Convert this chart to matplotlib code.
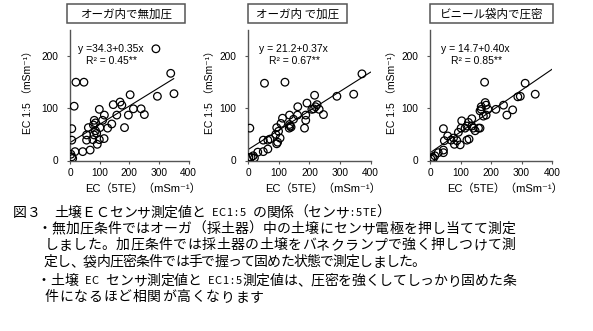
import unicodedata
import matplotlib.pyplot as plt
from matplotlib.patches import Rectangle

# -------------------------------------
#  Data: EC(5TE) vs EC1:5 (mS/m)
# -------------------------------------

titles = ["オーガ内で無加圧", "オーガ内 で加圧", "ビニール袋内で圧密"]
equations = ["y =34.3+0.35x", "y = 21.2+0.37x", "y = 14.7+0.40x"]
r2_labels = ["R² = 0.45**", "R² = 0.67**", "R² = 0.85**"]
intercepts = [34.3, 21.2, 14.7]
slopes = [0.35, 0.37, 0.40]
fit_ranges = [(0, 350), (0, 400), (0, 400)]

x_nopress = [290, 340, 351, 20, 47, 14, 203, 295, 146, 169, 175, 214, 197, 240, 251,
             99, 116, 110, 82, 158, 141, 127, 184, 101, 86, 79, 62, 86, 6, 56,
             81, 90, 115, 99, 77, 56, 92, 6, 68, 43, 17, 3, 6, 9]
y_nopress = [214, 167, 128, 150, 150, 104, 126, 123, 107, 112, 106, 99, 87, 99, 88,
             98, 87, 77, 77, 87, 70, 62, 63, 63, 72, 68, 63, 57, 61, 49,
             49, 52, 42, 40, 40, 39, 31, 39, 20, 17, 17, 12, 7, 4]

x_press = [372, 345, 290, 53, 120, 217, 192, 162, 225, 214, 232, 246, 188, 188, 184,
           135, 161, 148, 112, 107, 135, 140, 134, 93, 99, 90, 104, 96, 93, 71,
           64, 49, 5, 64, 49, 31, 16, 9, 20, 2, 220, 208, 137]
y_press = [166, 127, 123, 148, 150, 125, 110, 103, 107, 99, 98, 88, 87, 77, 62,
           87, 87, 79, 81, 71, 69, 64, 62, 63, 56, 50, 43, 35, 32, 41,
           39, 39, 62, 22, 17, 16, 9, 6, 5, 6, 103, 98, 66]

x_bag = [312, 345, 288, 296, 179, 181, 184, 168, 168, 164, 190, 216, 241, 271, 252,
         184, 175, 137, 126, 104, 121, 137, 142, 159, 164, 148, 115, 102, 93, 44,
         58, 77, 69, 47, 88, 80, 99, 121, 128, 44, 44, 27, 16, 8, 3, 11]
y_bag = [148, 127, 122, 123, 150, 111, 106, 103, 98, 95, 98, 98, 106, 97, 87,
         87, 85, 80, 73, 76, 66, 66, 62, 62, 62, 57, 62, 62, 54, 61,
         47, 43, 39, 38, 38, 31, 30, 39, 41, 20, 15, 15, 9, 6, 3, 4]

xs = [x_nopress, x_press, x_bag]
ys = [y_nopress, y_press, y_bag]

caption = [
    "図３　土壌ＥＣセンサ測定値と EC1:5 の関係（センサ:5TE）",
    "・無加圧条件ではオーガ（採土器）中の土壌にセンサ電極を押し当てて測定",
    "しました。加圧条件では採土器の土壌をバネクランプで強く押しつけて測",
    "定し、袋内圧密条件では手で握って固めた状態で測定しました。",
    "・土壌 EC センサ測定値と EC1:5測定値は、圧密を強くしてしっかり固めた条",
    "件になるほど相関が高くなります",
]

# -------------------------------------
#  Figure layout (pixels)
# -------------------------------------

W, H = 593, 331
LATIN = ["Liberation Sans", "DejaVu Sans", "Noto Sans CJK JP"]
CJK = ["Noto Sans CJK JP", "DejaVu Sans"]

axes_px = [(70, 118.5), (248.3, 122.2), (430, 122)]   # left, width
axis_bottom, axis_top = 160.5, 30
boxes_px = [(67, 118), (248, 99), (430, 123)]        # left, width
box_top, box_bot = 4, 23
eq_px = [(78, 86), (259, 269), (441, 451)]
ylabel_x = [28, 210, 392]
xlabel_x = [85, 265, 447]

# caption line grid: start x, end x, centre y
caption_px = [(13, 390, 213), (37, 516, 229), (44, 516, 245),
              (44, 425, 262), (37, 516, 281), (44, 264, 297)]


def fx(px):
    return px / W


def fy(py):
    return 1 - py / H


def draw_mono(fig, text, x0, x1, y):
    # full-width chars take one cell, half-width ones half a cell
    units = [1.0 if unicodedata.east_asian_width(c) in ("W", "F") else 0.5 for c in text]
    cell = (x1 - x0) / sum(units)
    x = x0
    for c, u in zip(text, units):
        w = u * cell
        if not c.isspace():
            fig.text(fx(x + w / 2), fy(y), c, ha="center", va="center",
                     family=CJK, fontsize=10 if u == 1.0 else 8)
        x += w


def draw_panel(fig, i):
    left, width = axes_px[i]
    ax = fig.add_axes([fx(left), fy(axis_bottom), width / W, (axis_bottom - axis_top) / H])
    ax.scatter(xs[i], ys[i], s=30, facecolors="none", edgecolors="black",
               linewidths=0.9, zorder=3)

    x0, x1 = fit_ranges[i]
    ax.plot([x0, x1], [intercepts[i] + slopes[i] * x0, intercepts[i] + slopes[i] * x1],
            color="black", lw=0.8, zorder=2)

    ax.set_xlim(0, 400)
    ax.set_ylim(0, 250)
    ax.set_xticks([0, 100, 200, 300, 400])
    ax.set_yticks([0, 100, 200])
    for s in ["top", "right"]:
        ax.spines[s].set_visible(False)
    for s in ["left", "bottom"]:
        ax.spines[s].set_color("#555555")
        ax.spines[s].set_linewidth(1.0)
    ax.tick_params(direction="out", length=2.5, width=0.8, color="#555555",
                   labelsize=7.3)
    ax.tick_params(axis="y", pad=6)
    ax.tick_params(axis="x", pad=3)
    for lab in ax.get_xticklabels() + ax.get_yticklabels():
        lab.set_family(LATIN)
    ax.patch.set_alpha(0)

    # axis labels placed in figure coords
    fig.text(fx(xlabel_x[i]), fy(189), "EC（5TE）（mSm⁻¹）", ha="left", va="center",
             family=LATIN, fontsize=8)
    fig.text(fx(ylabel_x[i]), fy(90), "EC 1:5 （mSm⁻¹）", rotation=90,
             ha="center", va="center", family=LATIN, fontsize=7.5)

    # regression equation
    ex, rx = eq_px[i]
    fig.text(fx(ex), fy(49), equations[i], ha="left", va="center",
             family=LATIN, fontsize=7.5)
    fig.text(fx(rx), fy(61), r2_labels[i], ha="left", va="center",
             family=LATIN, fontsize=7.5)

    # boxed panel title
    bl, bw = boxes_px[i]
    fig.patches.append(Rectangle((fx(bl), fy(box_bot)), bw / W, (box_bot - box_top) / H,
                                 transform=fig.transFigure, fill=False,
                                 edgecolor="#555555", lw=1.1))
    fig.text(fx(bl + bw / 2), fy((box_top + box_bot) / 2 + 0.5), titles[i],
             ha="center", va="center", family=CJK, fontsize=8.3)


def main():
    fig = plt.figure(figsize=(W / 100, H / 100), dpi=100)

    for i in range(3):
        draw_panel(fig, i)

    # caption below the panels
    for txt, (x0, x1, yy) in zip(caption, caption_px):
        draw_mono(fig, txt, x0, x1, yy)

    fig.savefig("out.png", dpi=100)


if __name__ == "__main__":
    main()
